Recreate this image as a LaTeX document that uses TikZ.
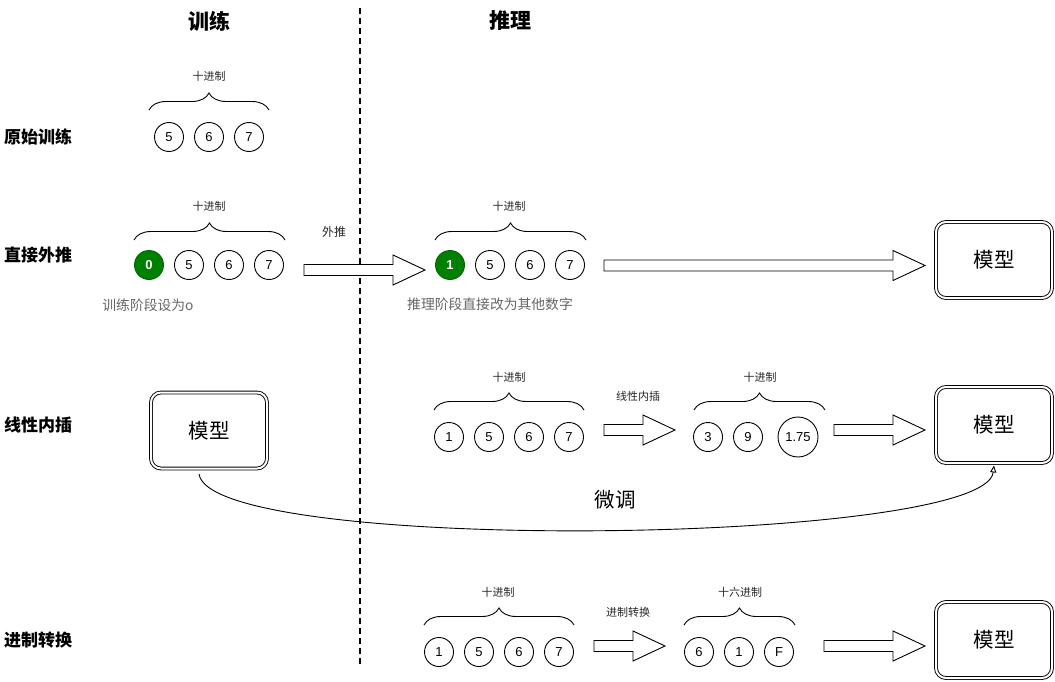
\documentclass[tikz,border=0pt]{standalone}
\usepackage{fontspec}
\setmainfont{Liberation Sans}
\newfontfamily\cjk{Noto Sans CJK SC}
\usetikzlibrary{decorations.pathreplacing,arrows.meta}

\newcommand{\blockarrow}[3]{%
  \draw[line width=0.9pt,fill=white] (#1,#3-5.5) -- (#2-32,#3-5.5) -- (#2-32,#3-15)
    -- (#2,#3) -- (#2-32,#3+15) -- (#2-32,#3+5.5) -- (#1,#3+5.5) -- cycle;}

\tikzset{
  digit/.style={draw,circle,line width=0.9pt,minimum size=29pt,inner sep=0pt,
    font=\fontsize{13}{15}\selectfont},
  hot/.style={digit,draw=green!40!black,fill=green!50!black,text=white,
    font=\fontsize{13}{15}\selectfont\bfseries},
  model/.style={draw,line width=0.9pt,double,double distance=2pt,rounded corners=10pt,
    minimum width=116pt,minimum height=76pt,font=\cjk\fontsize{20.5}{24}\selectfont},
  brc/.style={decorate,line width=0.9pt,decoration={brace,amplitude=17pt}},
  lbl/.style={font=\cjk\fontsize{11}{13}\selectfont,text=black!85},
  note/.style={font=\cjk\fontsize{13.8}{16}\selectfont,text=black!60},
  head/.style={font=\cjk\bfseries\fontsize{21}{25}\selectfont},
  rowtitle/.style={anchor=west,inner sep=0pt,font=\cjk\bfseries\fontsize{17}{20}\selectfont},
  divider/.style={line width=1.6pt,dash pattern=on 6pt off 4pt},
}

\begin{document}
\begin{tikzpicture}[x=1pt,y=-1pt]
  \useasboundingbox (0,0) rectangle (1055,682);

  \node[head] (train) at (209,21) {训练};
  \node[head] (infer) at (510,21) {推理};
  \coordinate (divtop) at (360,8);
  \coordinate (divbot) at (360,665);
  \draw[divider] (divtop) -- (divbot);

  \node[rowtitle] (orig) at (4,137) {原始训练};
  \node[rowtitle] (extra) at (4,255) {直接外推};
  \node[rowtitle] (inter) at (4,425) {线性内插};
  \node[rowtitle] (conv) at (4,640) {进制转换};

  % 原始训练
  \foreach \v [count=\i] in {5,6,7}
    \node[digit] (a\i) at (129+40*\i,137) {\v};
  \draw[brc] (149,110) -- (269,110);
  \node[lbl] (la) at (209,76) {十进制};

  % 直接外推
  \node[hot] (b1) at (149,265) {0};
  \foreach \v [count=\i from 2] in {5,6,7}
    \node[digit] (b\i) at (109+40*\i,265) {\v};
  \draw[brc] (134,240) -- (285,240);
  \node[lbl] (lb) at (209,206) {十进制};
  \node[note] (nb) at (148,305) {训练阶段设为o};
  \node[lbl,font=\cjk\fontsize{12}{14}\selectfont] (lext) at (334,232) {外推};
  \blockarrow{304}{425}{270}

  \node[hot] (c1) at (450,265) {1};
  \foreach \v [count=\i from 2] in {5,6,7}
    \node[digit] (c\i) at (410+40*\i,265) {\v};
  \draw[brc] (435,240) -- (586,240);
  \node[lbl] (lc) at (509,206) {十进制};
  \node[note] (nc) at (490,304) {推理阶段直接改为其他数字};
  \blockarrow{604}{925}{265.5}
  \node[model] (m2) at (994,260) {模型};

  % 线性内插
  \node[model] (m3l) at (209,430.5) {模型};
  \foreach \v [count=\i] in {1,5,6,7}
    \node[digit] (d\i) at (409+40*\i,437) {\v};
  \draw[brc] (434,410) -- (584,410);
  \node[lbl] (ld) at (509,377) {十进制};
  \node[lbl] (lint) at (638,396) {线性内插};
  \blockarrow{604}{675}{430}
  \node[digit] (e1) at (708,437) {3};
  \node[digit] (e2) at (748,437) {9};
  \node[digit,minimum size=40pt] (e3) at (798,437) {1.75};
  \draw[brc] (694,410) -- (825,410);
  \node[lbl] (le) at (760,377) {十进制};
  \blockarrow{834}{925}{430}
  \node[model] (m3r) at (994,425) {模型};
  \draw[line width=0.9pt,-{Triangle[open,length=7pt,width=6pt]}]
    ([shift={(-10pt,-5pt)}]m3l.south) .. controls (210,555) and (985,545)
    .. ([yshift=-2pt]m3r.south);
  \node[font=\cjk\fontsize{20.5}{24}\selectfont] (ft) at (615,500) {微调};

  % 进制转换
  \foreach \v [count=\i] in {1,5,6,7}
    \node[digit] (f\i) at (399+40*\i,652) {\v};
  \draw[brc] (424,625) -- (574,625);
  \node[lbl] (lf) at (498,592) {十进制};
  \node[lbl] (lconv) at (628,612) {进制转换};
  \blockarrow{594}{665}{646}
  \foreach \v [count=\i] in {6,1,F}
    \node[digit] (g\i) at (659+40*\i,652) {\v};
  \draw[brc] (684,625) -- (795,625);
  \node[lbl] (lg) at (740,592) {十六进制};
  \blockarrow{824}{925}{646}
  \node[model] (m4) at (994,640) {模型};
\end{tikzpicture}
\end{document}
